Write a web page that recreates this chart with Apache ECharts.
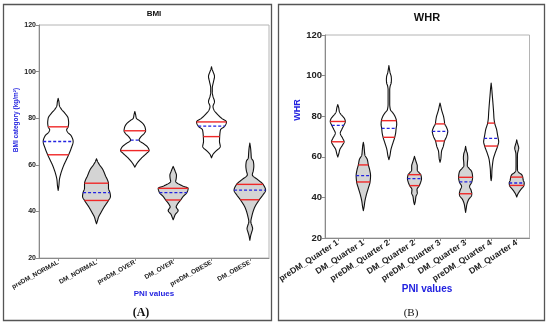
<!DOCTYPE html>
<html><head><meta charset="utf-8">
<script src="https://cdn.jsdelivr.net/npm/echarts@6/dist/echarts.min.js"></script>
<style>html,body{margin:0;padding:0;background:#fff}#c{width:550px;height:325px}</style>
</head><body><div id="c"></div>
<script>
// ---------- BMI panel data ----------
var bmiCategories = ['preDM_NORMAL','DM_NORMAL','preDM_OVER','DM_OVER','preDM_OBESE','DM_OBESE'];
var bmiQ1 = [64.3, 44.7, 66.1, 44.9, 72.1, 45.0];
var bmiMedian = [70.0, 48.1, 70.6, 48.1, 76.6, 49.1];
var bmiQ3 = [76.3, 52.1, 74.6, 49.9, 78.4, 51.6];
// density profiles: [value, relative density]
var bmiPreNormal = [[49,0],[51,0.7],[53.5,1.2],[56,2.5],[58,4],[60,5.8],[62,8],[64.3,10.5],[67,13],[70,15],[72.5,13],[74,9.5],[75,8.5],[76.3,10],[78,10.5],[80,10],[82,7],[84,3],[85.5,1.2],[87,0.8],[88.5,0]];
var bmiDmNormal = [[34.7,0],[36,1],[37.5,2],[39.3,4.2],[42,7.8],[44.7,12],[46.4,14],[48,13.5],[50,12],[52,12],[53.5,11],[55,9.3],[58,6.3],[60,3],[61.5,1],[62.6,0]];
var bmiPreOver = [[59,0],[60.5,2],[62.9,6.7],[65,12],[66.1,14.3],[67.5,13],[69,9],[70.6,4.2],[72,6],[73.5,9.5],[74.6,10.8],[76,10.3],[77.5,8.5],[79,4.5],[80,1.5],[81.5,0.8],[82.9,0]];
var bmiDmOver = [[36.4,0],[37.5,1],[38.6,2],[40.4,5],[41.9,3],[42.9,4],[44.9,7.5],[46.4,10],[48.1,13.8],[49.9,15],[51,9],[52.9,2.5],[54,3],[55.5,3.3],[57,2.2],[58.3,1],[59.3,0]];
var bmiPreObese = [[63,0],[64.5,1.5],[65.7,4],[67.9,8.8],[70,8],[72.1,8.2],[75,9],[76.6,13.3],[78.4,15],[80,10],[82.1,5],[83.5,2.5],[85,1.5],[87.1,3],[89.3,1.5],[91,0.8],[92.9,0.8],[95.7,2],[97.9,3],[100,1.5],[101,0.6],[102.1,0]];
var bmiDmObese = [[27.6,0],[29.5,0.8],[31.3,2],[32.6,2.8],[34,2],[35.5,1],[37.9,2],[41.4,4.5],[45,9.5],[47,13],[49.1,15.8],[51.6,13.3],[53.6,8],[55.7,2.5],[57.5,3.5],[59.5,4],[61.5,3.5],[63,1.5],[65,1.2],[67,0.8],[69.3,0]];
var bmiProfiles = [bmiPreNormal, bmiDmNormal, bmiPreOver, bmiDmOver, bmiPreObese, bmiDmObese];

// ---------- WHR panel data ----------
var whrCategories = ['preDM_Quarter 1','DM_Quarter 1','preDM_Quarter 2','DM_Quarter 2','preDM_Quarter 3','DM_Quarter 3','preDM_Quarter 4','DM_Quarter 4'];
var whrQ1 = [67.4, 47.6, 69.6, 45.8, 67.8, 41.8, 65.3, 45.9];
var whrMedian = [75.5, 50.7, 74.0, 49.2, 72.5, 47.6, 69.1, 47.1];
var whrQ3 = [77.4, 56.0, 77.8, 51.2, 76.2, 49.9, 76.6, 50.0];
var whrPreQ1 = [[59.9,0],[61.5,1],[63.5,2],[66,5],[67.4,6.3],[69,5],[71.7,2.5],[73.5,4],[75.5,6],[77.4,7.5],[78.5,7],[79.9,5],[81,3],[82.4,1.5],[84,1],[85.7,0]];
var whrDmQ1 = [[33.5,0],[35.5,0.8],[38,1.5],[41.3,3],[44.6,5],[47.6,6.7],[50.7,7.2],[53.6,6.3],[56,5],[58.6,4],[61,1.5],[63.5,1],[65.5,0.6],[67.1,0]];
var whrPreQ2 = [[58.6,0],[60.5,1],[63.5,2],[66.8,4],[69.6,5.8],[72,6.8],[74,7.2],[76,7.8],[77.8,7.5],[80,6],[81.6,4],[83.2,1.5],[86,0.8],[90,0.8],[93,0.8],[94.7,1.2],[96.5,2.3],[98,2.5],[99.5,2.3],[101.3,1.2],[103,0.6],[104.9,0]];
var whrDmQ2 = [[36.4,0],[38,0.8],[40.5,1.5],[42.2,2.8],[43.8,2.5],[45.8,4.8],[47.5,6.2],[49.2,7],[51.2,6.3],[52,5],[53.5,2.8],[55.5,2.8],[57,2],[58.5,1],[60.2,0]];
var whrPreQ3 = [[57.3,0],[59,0.8],[62.7,1.5],[65.1,3.2],[67.8,4.5],[70,6.5],[72.5,7.7],[74.5,6.5],[76.2,4.7],[78,4.2],[79.9,3.5],[81.5,2.5],[83.2,1.5],[85,0.7],[86.5,0]];
var whrDmQ3 = [[32.6,0],[34.5,0.6],[36.4,1.2],[38.9,3],[41,6],[41.8,6.2],[43.5,5.5],[45.4,4],[47.6,6.2],[49.9,7],[51.5,6.7],[52.8,6],[54.3,3.5],[55.6,1.7],[57,1.8],[59.4,2.2],[61.5,1.8],[63,0.8],[65.2,0]];
var whrPreQ4 = [[48.2,0],[50,0.5],[53.6,0.8],[56,1.3],[58.6,2],[61.9,4],[65.3,6.5],[67.5,7.5],[69.1,7],[71,6.3],[73.3,5.5],[76.6,3.5],[79,2.8],[81.6,2.5],[85,2],[88.1,1.5],[91,1],[93.5,0.6],[96.3,0]];
var whrDmQ4 = [[40.2,0],[41.5,1],[43.8,4],[45.9,7.2],[47.1,7.5],[48.5,6.5],[50,6],[51.2,5],[52.3,2],[53.5,0.8],[56,0.7],[59,0.7],[61.5,0.8],[62.7,1.3],[64.3,2],[66,1.2],[67.2,0.5],[68.4,0]];
var whrProfiles = [whrPreQ1, whrDmQ1, whrPreQ2, whrDmQ2, whrPreQ3, whrDmQ3, whrPreQ4, whrDmQ4];

var yTicks = [20, 40, 60, 80, 100, 120];

// ---------- rendering helpers ----------
// monotone cubic (Fritsch-Butland) interpolation of a density profile for a smooth outline
function makeInterp(prof) {
  var n = prof.length, xs = [], ys = [], h = [], d = [], m = [];
  for (var i = 0; i < n; i++) { xs.push(prof[i][0]); ys.push(prof[i][1]); }
  for (i = 0; i < n - 1; i++) { h.push(xs[i + 1] - xs[i]); d.push((ys[i + 1] - ys[i]) / h[i]); }
  m[0] = d[0]; m[n - 1] = d[n - 2];
  for (i = 1; i < n - 1; i++) {
    if (d[i - 1] * d[i] <= 0) m[i] = 0;
    else m[i] = 3 * (h[i - 1] + h[i]) / ((2 * h[i] + h[i - 1]) / d[i - 1] + (h[i] + 2 * h[i - 1]) / d[i]);
  }
  return function (v) {
    if (v <= xs[0] || v >= xs[n - 1]) return 0;
    var j = 0;
    while (j < n - 2 && v > xs[j + 1]) j++;
    var t = (v - xs[j]) / h[j], t2 = t * t, t3 = t2 * t;
    return (2 * t3 - 3 * t2 + 1) * ys[j] + (t3 - 2 * t2 + t) * h[j] * m[j] +
      (-2 * t3 + 3 * t2) * ys[j + 1] + (t3 - t2) * h[j] * m[j + 1];
  };
}
function makeRender(cats, profiles, q1, med, q3, refBand) {
  var interps = profiles.map(makeInterp);
  return function (params, api) {
    var i = api.value(0);
    var prof = profiles[i], f = interps[i];
    var band = api.size([1, 0])[0];
    var k = band / refBand;
    var cx = api.coord([i, 0])[0];
    var lo = prof[0][0], hi = prof[prof.length - 1][0];
    var right = [], left = [];
    var steps = Math.ceil((hi - lo) / 0.15);
    for (var s = 0; s <= steps; s++) {
      var v = lo + (hi - lo) * s / steps;
      var w = Math.max(0, f(v)) * k;
      var y = api.coord([i, v])[1];
      right.push([cx + w, y]);
      left.push([cx - w, y]);
    }
    var pts = right.concat(left.reverse());
    var fill = cats[i].indexOf('DM') === 0 ? '#d4d4d4' : '#ffffff';
    var children = [{
      type: 'polygon', shape: { points: pts },
      style: { fill: fill, stroke: '#111', lineWidth: 1.1, lineJoin: 'round' }
    }];
    function hline(v, color, dash, lw) {
      var w = Math.max(0, f(v)) * k;
      var y = api.coord([i, v])[1];
      children.push({ type: 'line', shape: { x1: cx - w, y1: y, x2: cx + w, y2: y },
        style: { stroke: color, lineWidth: lw, lineDash: dash } });
    }
    hline(q3[i], '#f02828', null, 1.4);
    hline(q1[i], '#f02828', null, 1.4);
    hline(med[i], '#2323e0', [3, 2], 1.3);
    return { type: 'group', children: children };
  };
}

function yAxisCfg(gi, fs) {
  return {
    type: 'value', gridIndex: gi, min: yTicks[0], max: yTicks[yTicks.length - 1], interval: 20,
    axisLine: { show: true, lineStyle: { color: '#8a8a8a', width: 1 } },
    axisTick: { show: true, length: 3, lineStyle: { color: '#8a8a8a' } },
    splitLine: { show: false },
    axisLabel: { fontFamily: 'Liberation Sans', fontWeight: 'bold', fontSize: fs, color: '#222', margin: 3 }
  };
}
function xAxisCfg(gi, cats, fs, rot) {
  return {
    type: 'category', gridIndex: gi, data: cats,
    axisLine: { show: true, lineStyle: { color: '#8a8a8a', width: 1 } },
    axisTick: { show: true, alignWithLabel: true, length: 3, lineStyle: { color: '#8a8a8a' } },
    axisLabel: { rotate: rot, interval: 0, fontFamily: 'Liberation Sans', fontWeight: 'bold', fontSize: fs, color: '#222', margin: 4 }
  };
}

var chart = echarts.init(document.getElementById('c'), null, { renderer: 'canvas' });
chart.setOption({
  animation: false,
  backgroundColor: '#fff',
  grid: [
    { left: 39, top: 25, width: 230, height: 233, show: true, borderColor: '#b4b4b4', borderWidth: 1, backgroundColor: 'transparent' },
    { left: 325, top: 35, width: 204.5, height: 203, show: true, borderColor: '#b4b4b4', borderWidth: 1, backgroundColor: 'transparent' }
  ],
  xAxis: [xAxisCfg(0, bmiCategories, 6.5, 29), xAxisCfg(1, whrCategories, 8.5, 33)],
  yAxis: [yAxisCfg(0, 7), yAxisCfg(1, 9.5)],
  series: [
    { type: 'custom', xAxisIndex: 0, yAxisIndex: 0, encode: { x: 0, y: 1 },
      data: bmiCategories.map(function (c, i) { return [i, bmiMedian[i]]; }),
      renderItem: makeRender(bmiCategories, bmiProfiles, bmiQ1, bmiMedian, bmiQ3, 38.4) },
    { type: 'custom', xAxisIndex: 1, yAxisIndex: 1, encode: { x: 0, y: 1 },
      data: whrCategories.map(function (c, i) { return [i, whrMedian[i]]; }),
      renderItem: makeRender(whrCategories, whrProfiles, whrQ1, whrMedian, whrQ3, 25.5) }
  ],
  graphic: [
    { type: 'rect', shape: { x: 3.5, y: 4.5, width: 268, height: 316 }, style: { fill: 'none', stroke: '#555', lineWidth: 1.3 }, silent: true },
    { type: 'rect', shape: { x: 278.5, y: 4.5, width: 266, height: 316 }, style: { fill: 'none', stroke: '#555', lineWidth: 1.3 }, silent: true },
    { type: 'text', x: 154, y: 14, style: { text: 'BMI', font: 'bold 8px "Liberation Sans"', fill: '#111', textAlign: 'center', textVerticalAlign: 'middle' } },
    { type: 'text', x: 427, y: 18, style: { text: 'WHR', font: 'bold 11px "Liberation Sans"', fill: '#111', textAlign: 'center', textVerticalAlign: 'middle' } },
    { type: 'text', x: 16, y: 120, rotation: Math.PI / 2, style: { text: 'BMI category (kg/m²)', font: 'bold 6.5px "Liberation Sans"', fill: '#2323e0', textAlign: 'center', textVerticalAlign: 'middle' } },
    { type: 'text', x: 298, y: 110, rotation: Math.PI / 2, style: { text: 'WHR', font: 'bold 9px "Liberation Sans"', fill: '#2323e0', textAlign: 'center', textVerticalAlign: 'middle' } },
    { type: 'text', x: 154, y: 294, style: { text: 'PNI values', font: 'bold 8px "Liberation Sans"', fill: '#2323e0', textAlign: 'center', textVerticalAlign: 'middle' } },
    { type: 'text', x: 427, y: 289, style: { text: 'PNI values', font: 'bold 10px "Liberation Sans"', fill: '#2323e0', textAlign: 'center', textVerticalAlign: 'middle' } },
    { type: 'text', x: 141, y: 313, style: { text: '(A)', font: 'bold 12px "Liberation Serif"', fill: '#111', textAlign: 'center', textVerticalAlign: 'middle' } },
    { type: 'text', x: 411, y: 313, style: { text: '(B)', font: '11px "Liberation Serif"', fill: '#111', textAlign: 'center', textVerticalAlign: 'middle' } }
  ]
});
</script></body></html>
